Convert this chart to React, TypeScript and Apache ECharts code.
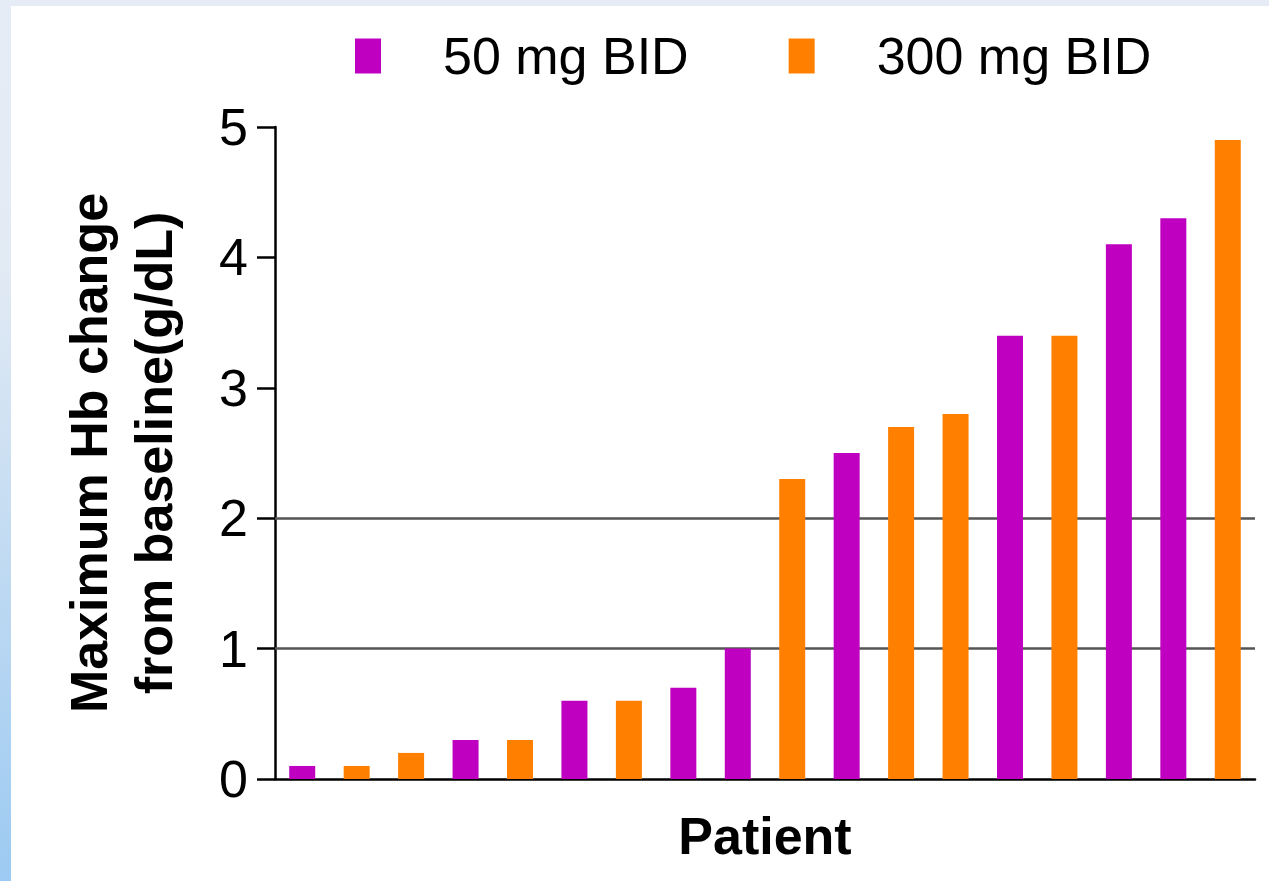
import React, { useEffect, useRef } from "react";
import * as echarts from "echarts";

const categories = ["1", "2", "3", "4", "5", "6", "7", "8", "9", "10", "11", "12", "13", "14", "15", "16", "17", "18"];
const dose50 = [0.1, "-", "-", 0.3, "-", 0.6, "-", 0.7, 1.0, "-", 2.5, "-", "-", 3.4, "-", 4.1, 4.3, "-"];
const dose300 = ["-", 0.1, 0.2, "-", 0.3, "-", 0.6, "-", "-", 2.3, "-", 2.7, 2.8, "-", 3.4, "-", "-", 4.9];
const seriesNames = ["50 mg BID", "300 mg BID"];
const refLines = [1, 2];
const yTicks = { min: 0, max: 5, interval: 1 };

const FONT = '"Liberation Sans", Arial, sans-serif';

export default function App() {
  const ref = useRef<HTMLDivElement>(null);
  useEffect(() => {
    if (!ref.current) return;
    const chart = echarts.init(ref.current, undefined, { renderer: "svg" });
    chart.setOption({
      animation: false,
      backgroundColor: "transparent",
      textStyle: { fontFamily: FONT },
      legend: {
        data: seriesNames,
        left: 350,
        top: 25,
        itemWidth: 26,
        itemHeight: 35,
        itemGap: 100,
        icon: "rect",
        textStyle: { fontSize: 52, color: "#000", fontFamily: FONT, padding: [0, 0, 0, 57] },
      },
      grid: { left: 275, right: 14, top: 127, bottom: 102, containLabel: false },
      xAxis: {
        type: "category",
        data: categories,
        axisLine: { lineStyle: { color: "#000", width: 2.5 } },
        axisTick: { show: false },
        axisLabel: { show: false },
        name: "Patient",
        nameLocation: "middle",
        nameGap: 31,
        nameTextStyle: { fontSize: 52, fontWeight: "bold", color: "#000", fontFamily: FONT },
      },
      yAxis: {
        type: "value",
        min: yTicks.min,
        max: yTicks.max,
        interval: yTicks.interval,
        axisLine: { show: true, lineStyle: { color: "#000", width: 2.5 } },
        axisTick: { show: true, length: 18, lineStyle: { color: "#000", width: 2.5 } },
        axisLabel: { fontSize: 52, color: "#000", margin: 27, fontFamily: FONT },
        splitLine: { show: false },
        name: "Maximum Hb change\nfrom baseline(g/dL)",
        nameLocation: "middle",
        nameRotate: 90,
        nameGap: 89,
        nameTextStyle: { fontSize: 52, fontWeight: "bold", color: "#000", lineHeight: 65, fontFamily: FONT },
      },
      series: [
        {
          name: seriesNames[0],
          type: "bar",
          data: dose50,
          barWidth: 26,
          barGap: "-100%",
          itemStyle: { color: "#c000c0" },
          markLine: {
            z: 1,
            silent: true,
            symbol: "none",
            label: { show: false },
            lineStyle: { color: "#555", width: 2.5, type: "solid" },
            data: refLines.map((v) => ({ yAxis: v })),
          },
        },
        {
          name: seriesNames[1],
          type: "bar",
          data: dose300,
          barWidth: 26,
          barGap: "-100%",
          itemStyle: { color: "#ff8000" },
        },
      ],
    });
    return () => chart.dispose();
  }, []);

  return (
    <div style={{ position: "fixed", left: 0, top: 0, width: 1269, height: 881, background: "linear-gradient(#e6ecf5 0%, #e2eaf4 30%, #c4dcf2 60%, #9ccaf2 100%)" }}>
      <div style={{ position: "absolute", left: 11, top: 6, right: 0, bottom: 0, background: "#fff" }} />
      <div ref={ref} style={{ position: "absolute", left: 0, top: 0, width: 1269, height: 881 }} />
    </div>
  );
}
